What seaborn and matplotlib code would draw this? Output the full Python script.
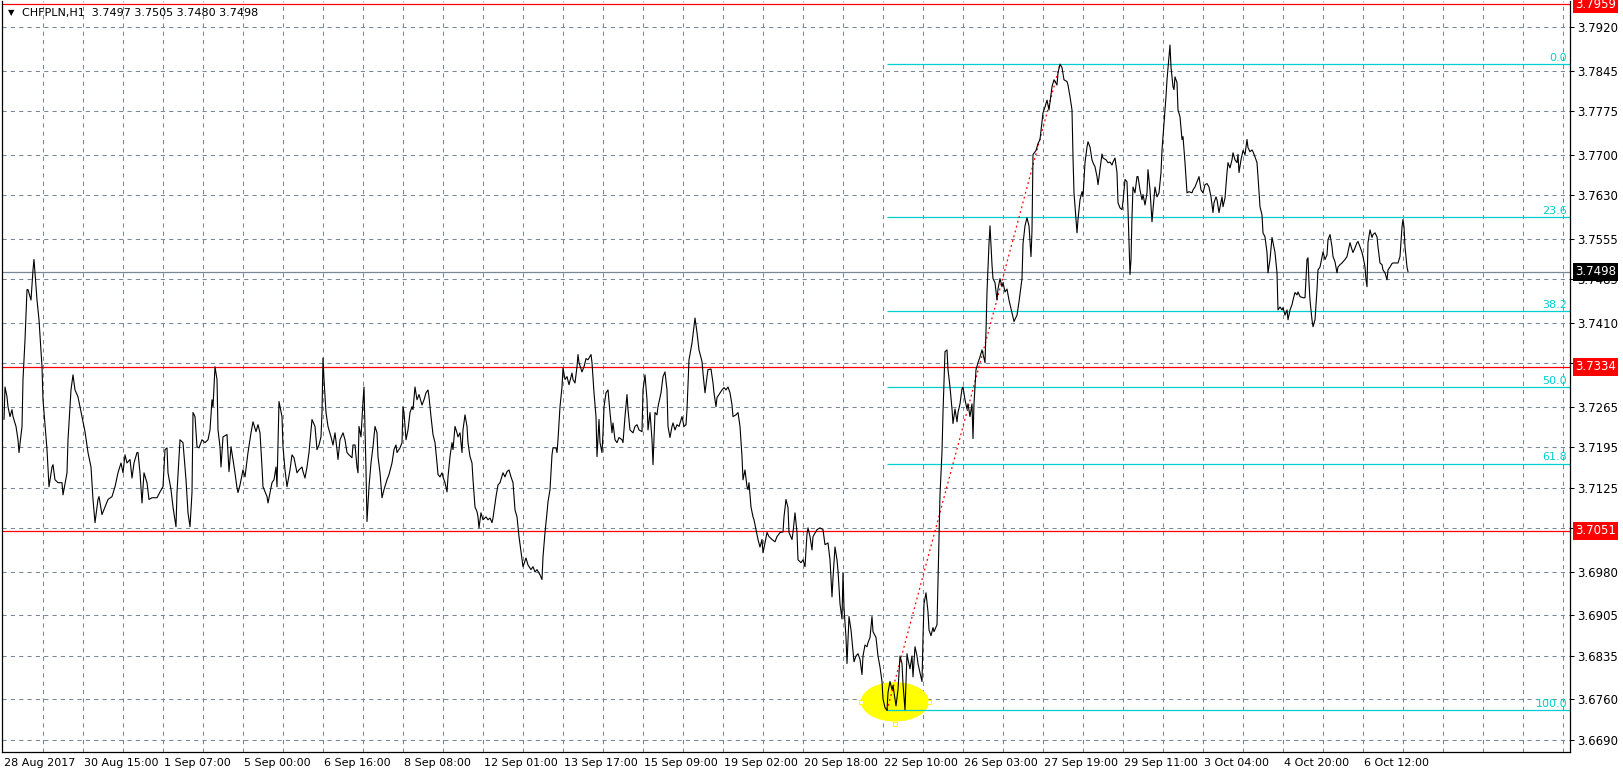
import numpy as np
import matplotlib
matplotlib.use("Agg")
import matplotlib.pyplot as plt
import matplotlib.transforms as mtransforms
from matplotlib.patches import Ellipse
import seaborn as sns

# ------------------ data (hourly bars, CHFPLN H1) ------------------
bar = [
    0, 0.5, 1.5, 2, 3, 4, 4.5, 6, 7, 7.5,
    9, 9.5, 10.5, 11.5, 12, 13.5, 14.5, 15, 15.5, 16.5,
    17.5, 19, 19.5, 21.5, 22.5, 24, 24.5, 25.5, 27, 29,
    29.5, 31.5, 32, 33.5, 34.5, 35.5, 37, 39, 40.5, 42,
    43.5, 44.5, 45.5, 47, 47.5, 49, 50.5, 52, 54, 55.5,
    57, 58.5, 59.5, 60.5, 61.5, 63, 64, 65, 66.5, 67,
    68, 69, 70, 71.5, 72.5, 74, 76.5, 78, 79.5, 80.5,
    81.5, 82, 83.5, 84.5, 86, 86.5, 88, 89.5, 91, 92,
    93, 94, 94.5, 95.5, 96.5, 97.5, 99, 100.5, 102, 103,
    104, 104.5, 105.5, 106.5, 107, 108, 108.5, 109.5, 111.5, 112,
    112.5, 113.5, 114.5, 115.5, 116.5, 117, 118, 119.5, 120.5, 122,
    123.5, 124.5, 126, 127, 128, 129, 129.5, 131.5, 132, 133,
    134, 135, 136, 136.5, 137.5,
    139, 139.5, 140.5, 141.5, 143, 144, 145, 146.5, 147.5, 149,
    149.5, 150.5, 151.5, 152.5, 153.5, 154, 155.5, 156.5, 157.5, 158.5,
    159, 159.5, 160, 161, 162, 163.5, 164.5, 165.5, 166.5, 167,
    168, 169.5, 170.5, 171.5, 172.5, 174, 174.5, 175.5, 176.5, 177,
    177.5, 178.5, 179.5, 180, 180.5, 181, 181.5, 182.5, 183.5, 184.5,
    185.5, 186.5, 187, 188, 189, 190, 191.5, 192.5, 194, 195,
    196, 196.5, 198, 199, 199.5, 200, 201, 202, 203, 204,
    204.5, 205.5, 206.5, 207.5, 209, 210, 211, 212, 212.5, 213.5,
    214.5, 215.5, 216.5, 217, 218, 219, 219.5, 220.5, 221.5, 222,
    223, 224, 224.5, 225.5, 226.5, 227, 228, 229, 229.5, 230.5,
    231.5, 232, 233, 234, 234.5, 235.5, 236.5, 237, 237.5, 238.5,
    239.5, 241, 242, 243, 244, 244.5, 246, 247, 248, 249.5,
    250.5, 251.5, 252.5, 253.5, 254.5, 255.5, 256.5, 257.5, 259, 259.5,
    261, 262, 263.5, 264.5, 265.5, 266.5, 268, 269, 269.5, 270.5,
    271.5, 272, 273, 274, 274.5, 276, 276.5, 277, 278, 279,
    279.5, 280.5, 281.5, 282.5, 284, 284.5, 285.5, 286.5, 287, 287.5,
    289, 290, 291, 292, 293.5, 294, 295, 296, 296.5, 297.5,
    298, 299, 299.5, 300, 301, 302, 303, 304, 304.5, 305.5,
    306.5, 307.5, 309, 309.5, 310.5, 311.5, 312, 313, 314.5, 315.5,
    316.5, 317.5, 319, 319.5, 320.5, 321.5, 322, 323, 324, 324.5,
    325.5, 326.5, 327, 328.5, 329.5, 330.5, 331.5, 332, 333, 334,
    334.5, 335.5, 336.5, 337.5, 339, 340, 341, 341.5, 342.5, 344,
    345, 345.5, 346.5, 347.5, 349, 349.5, 350.5, 351.5, 352, 353.5,
    354.5, 355, 356, 356.5, 357.5, 359, 360, 361, 362, 363,
    364, 364.5, 366, 367, 368, 369, 369.5, 370.5, 371.5, 372,
    372.5, 373.5, 374.5, 375, 376, 377, 378, 379, 379.5, 380.5,
    381.5, 382.5, 384, 385.5, 386.5, 388, 389.5, 390, 391, 392,
    392.5, 394, 394.5, 395.5, 396.5, 397, 398.5, 399.5, 400.5, 401.5,
    402, 403, 404, 404.5, 406.5, 408, 409.5, 410.5, 412, 413,
    414, 414.5, 415.5, 416.5, 417, 418, 419, 419.5, 420, 421,
    421.5, 422.5, 423.5, 424.5, 425, 426, 427, 428, 429, 429.5,
    430.5, 431.5, 432, 433, 434, 434.5, 436, 437, 438, 439,
    439.5, 440.5, 441.5, 442, 443, 444, 444.5, 446, 447, 448,
    449, 449.5, 450.5, 451.5, 452, 453, 454, 454.5, 455.5, 456.5,
    457, 458, 459, 459.5, 460, 461, 462, 462.5, 463.5, 464.5,
    465, 466.5, 467, 467.5, 468, 469, 469.5, 470.5, 471.5, 472,
    473, 474, 474.5, 475.5, 476.5, 477, 478, 479, 479.5, 480.5,
    481.5, 482, 483, 484, 484.5, 485, 486, 487, 488, 489,
    489.5, 490.5, 491, 491.5, 492.5, 493, 494, 494.5, 495.5, 496.5,
    497, 498, 499, 499.5, 500.5, 501.5, 502.5, 504, 505, 506.5,
    507.5, 509, 509.5, 510.5, 511.5, 512.5, 513.5, 514, 514.5, 516,
    517, 518, 519.5, 520.5, 521.5, 522.5, 524, 525, 526.5, 527,
    528, 529, 530, 531.5, 532, 533, 534, 534.5, 535, 536,
    536.5, 537, 538, 539, 539.5, 540.5, 541.5, 542, 543, 544,
    544.5, 545.5, 546.5, 547, 548, 549, 549.5, 551, 552, 553,
    554, 554.5, 555.5, 556.5, 557, 558, 559, 559.5, 560.5, 561.5,
    562, 562.5, 563, 563.5, 564, 564.5, 565.5, 566.5, 567, 568,
    569, 569.5, 570.5, 571.5, 572, 573, 574, 574.5, 575.5, 576.5,
    577.5, 578.5, 579, 580, 581, 581.5, 582.5, 583, 583.5, 584.5,
    585, 585.5, 586.5, 587, 588, 589, 589.5, 590.5, 591.5, 592.5,
    594, 594.5, 595.5, 596.5, 597.5, 598.5, 599.5, 600.5, 601.5, 602.5,
    603.5, 604.5, 605, 606, 606.5, 607.5, 609, 609.5, 610.5, 611.5,
    612, 613, 614, 614.5, 615.5, 616.5, 617, 617.5, 618.5, 619.5,
    620.5, 621.5, 622, 623, 624, 624.5, 625.5, 626.5, 627, 628,
    629, 629.5, 630.5, 631.5, 632, 633, 634, 634.5, 635.5, 636.5,
    637, 638, 639, 639.5, 640.5, 641.5, 642, 643, 644, 644.5,
    645.5, 646.5, 647, 648, 649.5, 650.5, 651.5, 652, 652.5, 653,
    654, 654.5, 655.5, 656.5, 657, 658, 659, 659.5, 660.5, 661.5,
    662, 663, 664, 664.5, 665.5, 666.5, 667, 668, 669, 669.5,
    670.5, 671.5, 672, 673, 674, 674.5, 675.5, 676.5, 677, 678,
    679, 679.5, 680.5, 681, 681.5, 682, 683, 684, 684.5, 685.5,
    686.5, 687, 688, 689, 689.5, 690.5, 691.5, 692, 693, 694,
    694.5, 695.5, 697, 698, 699, 699.5, 700, 700.5, 701.5, 702,
]

close = [
    3.7243, 3.7299, 3.7282, 3.7265, 3.7248, 3.7260, 3.7248, 3.7231, 3.7208, 3.7186,
    3.7231, 3.7312, 3.7380, 3.7467, 3.7467, 3.7449, 3.7501, 3.7519, 3.7496, 3.7449,
    3.7415, 3.7334, 3.7277, 3.7191, 3.7127, 3.7161, 3.7165, 3.7139, 3.7134, 3.7134,
    3.7113, 3.7151, 3.7208, 3.7294, 3.7320, 3.7294, 3.7282, 3.7248, 3.7222, 3.7186,
    3.7161, 3.7105, 3.7065, 3.7105, 3.7110, 3.7079, 3.7092, 3.7105, 3.7110, 3.7127,
    3.7151, 3.7168, 3.7151, 3.7182, 3.7168, 3.7174, 3.7142, 3.7168, 3.7186, 3.7186,
    3.7151, 3.7099, 3.7151, 3.7134, 3.7105, 3.7108, 3.7108, 3.7118, 3.7127, 3.7191,
    3.7194, 3.7151, 3.7122, 3.7092, 3.7058, 3.7117, 3.7208, 3.7203, 3.7139, 3.7082,
    3.7058, 3.7117, 3.7255, 3.7248, 3.7196, 3.7194, 3.7208, 3.7203, 3.7208, 3.7225,
    3.7277, 3.7265, 3.7334, 3.7312, 3.7225, 3.7196, 3.7161, 3.7213, 3.7217, 3.7186,
    3.7153, 3.7196, 3.7174, 3.7151, 3.7125, 3.7117, 3.7130, 3.7156, 3.7144, 3.7186,
    3.7220, 3.7239, 3.7222, 3.7234, 3.7220, 3.7161, 3.7127, 3.7110, 3.7099, 3.7117,
    3.7134, 3.7139, 3.7161, 3.7127, 3.7274,
    3.7248, 3.7196, 3.7156, 3.7127, 3.7156, 3.7182, 3.7177, 3.7151, 3.7156, 3.7161,
    3.7153, 3.7142, 3.7161, 3.7186, 3.7225, 3.7243, 3.7231, 3.7191, 3.7199, 3.7213,
    3.7255, 3.7349, 3.7312, 3.7255, 3.7231, 3.7213, 3.7199, 3.7220, 3.7191, 3.7174,
    3.7208, 3.7220, 3.7208, 3.7186, 3.7182, 3.7177, 3.7199, 3.7199, 3.7161, 3.7151,
    3.7231, 3.7213, 3.7274, 3.7299, 3.7225, 3.7156, 3.7067, 3.7127, 3.7168, 3.7196,
    3.7231, 3.7220, 3.7179, 3.7151, 3.7108, 3.7122, 3.7139, 3.7148, 3.7168, 3.7191,
    3.7199, 3.7186, 3.7194, 3.7203, 3.7265, 3.7255, 3.7208, 3.7225, 3.7255, 3.7265,
    3.7260, 3.7299, 3.7277, 3.7286, 3.7268, 3.7277, 3.7289, 3.7294, 3.7282, 3.7248,
    3.7217, 3.7203, 3.7168, 3.7148, 3.7144, 3.7151, 3.7144, 3.7134, 3.7118, 3.7144,
    3.7179, 3.7203, 3.7191, 3.7231, 3.7220, 3.7213, 3.7220, 3.7186, 3.7225, 3.7251,
    3.7231, 3.7203, 3.7179, 3.7168, 3.7139, 3.7092, 3.7084, 3.7075, 3.7056, 3.7082,
    3.7070, 3.7075, 3.7070, 3.7073, 3.7065, 3.7073, 3.7110, 3.7130, 3.7134, 3.7151,
    3.7144, 3.7153, 3.7156, 3.7144, 3.7134, 3.7087, 3.7075, 3.7041, 3.7001, 3.6989,
    3.7004, 3.6992, 3.6984, 3.6989, 3.6980, 3.6984, 3.6975, 3.6967, 3.7006, 3.7048,
    3.7082, 3.7101, 3.7122, 3.7182, 3.7194, 3.7194, 3.7186, 3.7208, 3.7265, 3.7299,
    3.7332, 3.7312, 3.7317, 3.7303, 3.7323, 3.7312, 3.7306, 3.7334, 3.7355, 3.7341,
    3.7325, 3.7334, 3.7348, 3.7346, 3.7355, 3.7341, 3.7289, 3.7248, 3.7179, 3.7243,
    3.7203, 3.7186, 3.7220, 3.7265, 3.7289, 3.7294, 3.7255, 3.7220, 3.7237, 3.7208,
    3.7203, 3.7212, 3.7208, 3.7203, 3.7248, 3.7286, 3.7260, 3.7225, 3.7220, 3.7231,
    3.7234, 3.7225, 3.7222, 3.7294, 3.7320, 3.7277, 3.7225, 3.7255, 3.7208, 3.7165,
    3.7255, 3.7251, 3.7265, 3.7289, 3.7317, 3.7325, 3.7294, 3.7231, 3.7212, 3.7231,
    3.7237, 3.7225, 3.7234, 3.7231, 3.7248, 3.7231, 3.7234, 3.7260, 3.7346, 3.7375,
    3.7403, 3.7418, 3.7393, 3.7363, 3.7343, 3.7323, 3.7289, 3.7317, 3.7329, 3.7330,
    3.7306, 3.7289, 3.7265, 3.7281, 3.7286, 3.7294, 3.7298, 3.7294, 3.7299, 3.7289,
    3.7268, 3.7248, 3.7251, 3.7255, 3.7231, 3.7179, 3.7139, 3.7156, 3.7127, 3.7122,
    3.7134, 3.7092, 3.7075, 3.7070, 3.7053, 3.7036, 3.7023, 3.7036, 3.7013, 3.7030,
    3.7048, 3.7041, 3.7036, 3.7032, 3.7041, 3.7048, 3.7049, 3.7075, 3.7105, 3.7091,
    3.7048, 3.7036, 3.7048, 3.7082, 3.7048, 3.7001, 3.6996, 3.7001, 3.6989, 3.7046,
    3.7056, 3.7041, 3.7018, 3.7041, 3.7053, 3.7056, 3.7053, 3.7027, 3.7030, 3.7001,
    3.6937, 3.6970, 3.7023, 3.7001, 3.6982, 3.6925, 3.6899, 3.6979, 3.6918, 3.6867,
    3.6822, 3.6903, 3.6880, 3.6844, 3.6825, 3.6835, 3.6839, 3.6829, 3.6803, 3.6835,
    3.6854, 3.6851, 3.6858, 3.6867, 3.6903, 3.6877, 3.6867, 3.6835, 3.6816, 3.6791,
    3.6761, 3.6746, 3.6741, 3.6772, 3.6791, 3.6777, 3.6784, 3.6749, 3.6777, 3.6835,
    3.6822, 3.6787, 3.6742, 3.6839, 3.6829, 3.6813, 3.6835, 3.6799, 3.6851, 3.6835,
    3.6822, 3.6806, 3.6791, 3.6867, 3.6925, 3.6944, 3.6911, 3.6880, 3.6870, 3.6884,
    3.6877, 3.6889, 3.6963, 3.7030, 3.7113, 3.7187, 3.7255, 3.7360, 3.7363, 3.7329,
    3.7299, 3.7261, 3.7236, 3.7261, 3.7239, 3.7255, 3.7270, 3.7296, 3.7299, 3.7277,
    3.7261, 3.7270, 3.7248, 3.7270, 3.7210, 3.7270, 3.7329, 3.7341, 3.7351, 3.7363,
    3.7356, 3.7341, 3.7396, 3.7463, 3.7546, 3.7577, 3.7510, 3.7486, 3.7479, 3.7449,
    3.7468, 3.7486, 3.7472, 3.7479, 3.7463, 3.7468, 3.7449, 3.7427, 3.7412, 3.7423,
    3.7446, 3.7486, 3.7546, 3.7577, 3.7591, 3.7577, 3.7524, 3.7569, 3.7700, 3.7707,
    3.7719, 3.7726, 3.7772, 3.7782, 3.7794, 3.7777, 3.7817, 3.7829, 3.7820, 3.7841,
    3.7856, 3.7850, 3.7829, 3.7826, 3.7820, 3.7800, 3.7777, 3.7696, 3.7634, 3.7588,
    3.7565, 3.7588, 3.7622, 3.7636, 3.7627, 3.7686, 3.7713, 3.7722, 3.7713, 3.7691,
    3.7686, 3.7679, 3.7662, 3.7648, 3.7674, 3.7701, 3.7694, 3.7691, 3.7686, 3.7687,
    3.7682, 3.7687, 3.7694, 3.7669, 3.7617, 3.7608, 3.7605, 3.7619, 3.7657, 3.7653,
    3.7605, 3.7548, 3.7493, 3.7519, 3.7593, 3.7644, 3.7634, 3.7662, 3.7662, 3.7639,
    3.7622, 3.7631, 3.7613, 3.7634, 3.7674, 3.7639, 3.7584, 3.7605, 3.7644, 3.7627,
    3.7634, 3.7669, 3.7708, 3.7755, 3.7800, 3.7829, 3.7869, 3.7889, 3.7851, 3.7817,
    3.7812, 3.7834, 3.7824, 3.7777, 3.7765, 3.7726, 3.7731, 3.7686, 3.7634, 3.7636,
    3.7634, 3.7639, 3.7644, 3.7653, 3.7662, 3.7639, 3.7634, 3.7648, 3.7650, 3.7644,
    3.7627, 3.7600, 3.7617, 3.7627, 3.7622, 3.7600, 3.7627, 3.7610, 3.7625, 3.7669,
    3.7686, 3.7677, 3.7691, 3.7703, 3.7691, 3.7686, 3.7700, 3.7669, 3.7691, 3.7707,
    3.7700, 3.7726, 3.7712, 3.7705, 3.7708, 3.7705, 3.7696, 3.7686, 3.7662, 3.7610,
    3.7596, 3.7565, 3.7558, 3.7531, 3.7496, 3.7519, 3.7557, 3.7548, 3.7531, 3.7496,
    3.7432, 3.7437, 3.7432, 3.7436, 3.7423, 3.7432, 3.7415, 3.7432, 3.7441, 3.7449,
    3.7462, 3.7458, 3.7463, 3.7455, 3.7453, 3.7453, 3.7519, 3.7522, 3.7479, 3.7449,
    3.7415, 3.7403, 3.7415, 3.7467, 3.7501, 3.7506, 3.7524, 3.7532, 3.7519, 3.7527,
    3.7553, 3.7562, 3.7541, 3.7524, 3.7515, 3.7496, 3.7506, 3.7510, 3.7513, 3.7515,
    3.7519, 3.7524, 3.7532, 3.7548, 3.7536, 3.7531, 3.7539, 3.7548, 3.7550, 3.7541,
    3.7531, 3.7524, 3.7506, 3.7484, 3.7472, 3.7548, 3.7570, 3.7557, 3.7562, 3.7565,
    3.7558, 3.7541, 3.7513, 3.7510, 3.7501, 3.7496, 3.7484, 3.7501, 3.7506, 3.7512,
    3.7513, 3.7513, 3.7513, 3.7524, 3.7575, 3.7588, 3.7575, 3.7541, 3.7506, 3.7498,
]

time_labels = ["28 Aug 2017", "30 Aug 15:00", "1 Sep 07:00", "5 Sep 00:00",
               "6 Sep 16:00", "8 Sep 08:00", "12 Sep 01:00", "13 Sep 17:00",
               "15 Sep 09:00", "19 Sep 02:00", "20 Sep 18:00", "22 Sep 10:00",
               "26 Sep 03:00", "27 Sep 19:00", "29 Sep 11:00", "3 Oct 04:00",
               "4 Oct 20:00", "6 Oct 12:00"]
time_label_bars = [0, 40, 80, 120, 160, 200, 240, 280, 320, 360, 400, 440,
                   480, 520, 560, 600, 640, 680]

price_ticks = [3.7920, 3.7845, 3.7775, 3.7700, 3.7630, 3.7555, 3.7485, 3.7410,
               3.7340, 3.7265, 3.7195, 3.7125, 3.7055, 3.6980, 3.6905, 3.6835,
               3.6760, 3.6690]

red_levels = [3.7959, 3.7334, 3.7051]
last_price = 3.7498
ohlc = [3.7497, 3.7505, 3.7480, 3.7498]

fib_bars = [441.5, 528]          # swing low -> swing high
fib_prices = [3.6741, 3.7856]
fib_pct = [0.0, 23.6, 38.2, 50.0, 61.8, 100.0]

mark_bar = 445.5                 # yellow ellipse round the low
mark_price = 3.6756

# ------------------ plotting ------------------
sns.set_style("white")
plt.rcParams['font.family'] = ['DejaVu Sans']

W, H = 1623, 776
fig = plt.figure(figsize=(W / 100, H / 100), dpi=100)
ax = fig.add_axes([2 / W, 24 / H, 1568 / W, 751 / H])
ax.set_facecolor('white')

x_max = 783
ax.set_xlim(-1, x_max)
ax.set_ylim(3.66694, 3.79649)

grid_c = '#778899'
dash = (0, (4, 4))
for v in price_ticks:
    ax.axhline(v, color=grid_c, lw=0.75, ls=dash, zorder=0.5)
for b in np.arange(20, x_max, 20):
    ax.axvline(b - 0.5, color=grid_c, lw=0.75, ls=dash, zorder=0.5)

# yellow ellipse + its handles
ax.add_patch(Ellipse((mark_bar, mark_price), width=34, height=0.0068,
                     facecolor='#FFFF00', edgecolor='none', zorder=1.5))
ax.scatter([mark_bar - 17, mark_bar + 17, mark_bar], [mark_price, mark_price, mark_price - 0.0039],
           marker='s', s=9, facecolor='white', edgecolor='#FFFF00', linewidths=0.8,
           zorder=1.6, clip_on=False)

# horizontal levels
for v in red_levels:
    ax.axhline(v, color='#FF0000', lw=0.9, zorder=2)
ax.axhline(last_price, color=grid_c, lw=0.9, zorder=2)

# fibonacci retracement
fib_c = '#00CED1'
rng = fib_prices[1] - fib_prices[0]
for p in fib_pct:
    lvl = fib_prices[1] - p / 100 * rng
    ax.hlines(lvl, fib_bars[0], x_max, color=fib_c, lw=0.9, zorder=2)
    ax.text(x_max - 1.5, lvl + 0.0002, f"{p:.1f}", color=fib_c, fontsize=8,
            ha='right', va='bottom', zorder=3)
ax.plot(fib_bars, fib_prices, color='#FF0000', lw=0.9, ls=(0, (1.5, 2.5)), zorder=3)

# price line
sns.lineplot(x=bar, y=close, ax=ax, color='black', linewidth=0.8,
             estimator=None, sort=False, zorder=4)
ax.set_xlabel('')
ax.set_ylabel('')

# axes styling
ax.spines['top'].set_visible(False)
for s in ['left', 'right', 'bottom']:
    ax.spines[s].set_color('black')
    ax.spines[s].set_linewidth(0.9)

ax.yaxis.tick_right()
ax.set_yticks(price_ticks)
ax.set_yticklabels([f"{v:.4f}" for v in price_ticks])
ax.tick_params(axis='y', direction='out', length=3, width=0.75, pad=2.5,
               labelsize=8.5, colors='black')
ax.set_xticks(time_label_bars)
ax.set_xticklabels(time_labels)
ax.tick_params(axis='x', direction='out', length=3, width=0.75, pad=1.5,
               labelsize=8, colors='black')
plt.setp(ax.get_xticklabels(), ha='left')

# price boxes on the right scale
tr = mtransforms.blended_transform_factory(ax.transAxes, ax.transData)
for v in red_levels:
    ax.text(1.0 + 5 / 1568, v, f"{v:.4f}", transform=tr, color='white', fontsize=8.5,
            ha='left', va='center', zorder=6, clip_on=False,
            bbox=dict(boxstyle='square,pad=0.2', facecolor='#FF0000', edgecolor='none'))
ax.text(1.0 + 5 / 1568, last_price, f"{last_price:.4f}", transform=tr, color='white',
        fontsize=8.5, ha='left', va='center', zorder=6, clip_on=False,
        bbox=dict(boxstyle='square,pad=0.2', facecolor='black', edgecolor='none'))

# header
fig.text(8 / W, 1 - 13 / H, "\u25BC", fontsize=6, va='center', ha='left', color='black')
fig.text(22 / W, 1 - 13 / H, "CHFPLN,H1  " + " ".join(f"{v:.4f}" for v in ohlc),
         fontsize=8, va='center', ha='left', color='black')

fig.savefig('out.png', dpi=100, facecolor='white')
